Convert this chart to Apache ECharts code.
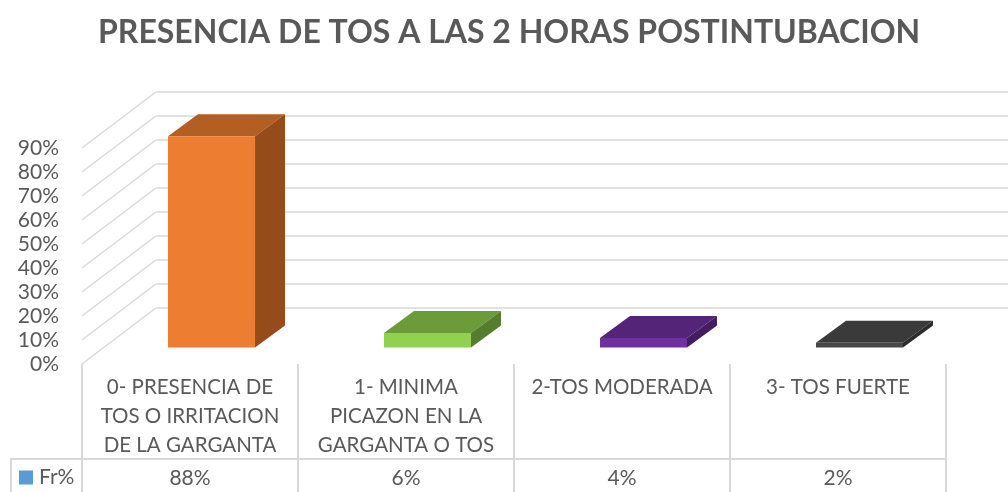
<!DOCTYPE html>
<html>
<head>
<meta charset="utf-8">
<title>Presencia de tos</title>
<script src="https://cdn.jsdelivr.net/npm/echarts@6/dist/echarts.min.js"></script>
<style>
html, body { margin: 0; padding: 0; background: #fff; }
#chart { width: 1008px; height: 492px; }
</style>
</head>
<body>
<div id="chart"></div>
<script>
const chartTitle = 'PRESENCIA DE TOS A LAS 2 HORAS POSTINTUBACION';
const seriesName = 'Fr%';
const categories = [
    '0- PRESENCIA DE\nTOS O IRRITACION\nDE LA GARGANTA',
    '1- MINIMA\nPICAZON EN LA\nGARGANTA O TOS',
    '2-TOS MODERADA',
    '3- TOS FUERTE'
];
const values = [88, 6, 4, 2];
const yTicks = [0, 10, 20, 30, 40, 50, 60, 70, 80, 90];

// front, top, side of each bar
const barColors = [
    ['#ED7D31', '#B35E22', '#964C1A'],
    ['#92D050', '#6C9B3A', '#567D2E'],
    ['#7030A0', '#542478', '#431C61'],
    ['#484848', '#3A3A3A', '#2C2C2C']
];

const textColor = '#595959';
const lineColor = '#D9D9D9';
const font = 'Lato';

// fake 3D offsets, px
const wallDx = 74, wallDy = -56;
const floorDx = 21.5, floorDy = -16.5;
const barDx = 30, barDy = -22;
const barRatio = 0.403;

const chart = echarts.init(document.getElementById('chart'));

const renderWall = (params, api) => {
    const p = api.coord([0, api.value(1)]);
    const band = api.size([1, 0])[0];
    const x0 = p[0] - band / 2;
    return {
        type: 'polyline',
        silent: true,
        shape: {
            points: [
                [x0, p[1]],
                [x0 + wallDx, p[1] + wallDy],
                [x0 + wallDx + band * categories.length, p[1] + wallDy]
            ]
        },
        style: { stroke: lineColor, lineWidth: 1.5, fill: null }
    };
};

const renderBar = (params, api) => {
    const i = api.value(0);
    const top = api.coord([i, api.value(1)]);
    const base = api.coord([i, 0]);
    const band = api.size([1, 0])[0];
    const w = band * barRatio;
    const l = top[0] + floorDx - w / 2;
    const r = l + w;
    const t = top[1] + floorDy;
    const b = base[1] + floorDy;
    const colors = barColors[i];
    return {
        type: 'group',
        children: [
            {
                type: 'polygon',
                shape: { points: [[l, t], [r, t], [r + barDx, t + barDy], [l + barDx, t + barDy]] },
                style: { fill: colors[1] }
            },
            {
                type: 'polygon',
                shape: { points: [[r, t], [r + barDx, t + barDy], [r + barDx, b + barDy], [r, b]] },
                style: { fill: colors[2] }
            },
            {
                type: 'rect',
                shape: { x: l, y: t, width: w, height: b - t },
                style: { fill: colors[0] }
            }
        ]
    };
};

chart.setOption({
    backgroundColor: '#fff',
    animation: false,
    title: {
        text: chartTitle,
        left: 93,
        top: 12,
        textStyle: { color: textColor, fontFamily: font, fontSize: 32, fontWeight: 'bold' }
    },
    legend: {
        left: 19,
        top: 467,
        padding: 0,
        itemWidth: 14,
        itemHeight: 14,
        itemGap: 0,
        selectedMode: false,
        data: [{ name: seriesName, icon: 'rect', itemStyle: { color: '#5B9BD5' } }],
        textStyle: { color: textColor, fontFamily: font, fontSize: 21, padding: [0, 0, 0, 1] }
    },
    grid: { left: 82, right: 62, top: 148, height: 216, containLabel: false },
    xAxis: [
        {
            type: 'category',
            data: categories,
            position: 'bottom',
            axisLine: { show: false },
            axisTick: { show: true, length: 128, lineStyle: { color: lineColor, width: 2 } },
            axisLabel: {
                interval: 0,
                color: textColor,
                fontFamily: font,
                fontSize: 20.5,
                lineHeight: 29,
                margin: 9
            }
        },
        {
            type: 'category',
            data: values.map(v => v + '%'),
            position: 'bottom',
            offset: 95,
            axisLine: { show: true, lineStyle: { color: lineColor, width: 2 } },
            axisTick: { show: false },
            axisLabel: {
                interval: 0,
                color: textColor,
                fontFamily: font,
                fontSize: 21,
                margin: 9
            }
        }
    ],
    yAxis: {
        type: 'value',
        min: 0,
        max: 90,
        interval: 10,
        axisLine: { show: false },
        axisTick: { show: false },
        splitLine: { show: false },
        axisLabel: {
            formatter: '{value}%',
            color: textColor,
            fontFamily: font,
            fontSize: 21,
            padding: [4, 0, 0, 0],
            margin: 23
        }
    },
    graphic: [
        // left stub of the data table
        {
            type: 'polyline',
            silent: true,
            shape: { points: [[82, 459], [11, 459], [11, 492]] },
            style: { stroke: lineColor, lineWidth: 2, fill: null }
        }
    ],
    series: [
        {
            type: 'custom',
            name: 'wall',
            renderItem: renderWall,
            data: yTicks.map(t => [0, t]),
            z: 1,
            silent: true
        },
        {
            type: 'custom',
            name: seriesName,
            renderItem: renderBar,
            data: values.map((v, i) => [i, v]),
            z: 2,
            silent: true
        }
    ]
});
</script>
</body>
</html>
